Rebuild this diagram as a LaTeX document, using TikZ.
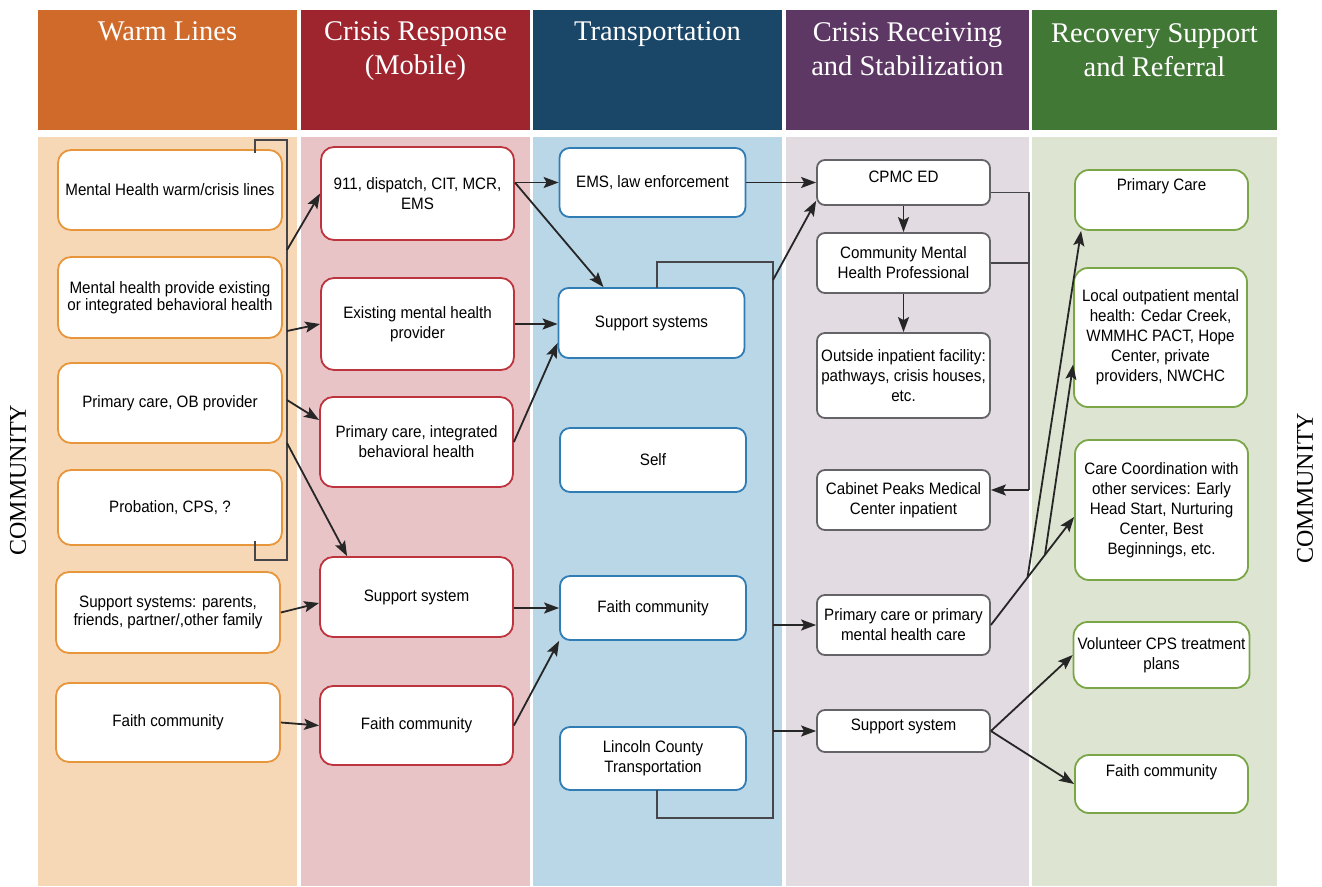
\documentclass[tikz,border=0pt]{standalone}
\usepackage{fontspec}
\usepackage{tikz}
\usetikzlibrary{arrows.meta,calc}
\newfontfamily\boxfont[FakeStretch=0.92]{Liberation Sans}
\newfontfamily\headfont{Liberation Serif}
\definecolor{hdorange}{RGB}{208,106,42}
\definecolor{hdred}{RGB}{158,36,46}
\definecolor{hdblue}{RGB}{26,70,104}
\definecolor{hdpurple}{RGB}{94,56,100}
\definecolor{hdgreen}{RGB}{66,120,54}
\definecolor{bgorange}{RGB}{246,216,182}
\definecolor{bgred}{RGB}{233,196,199}
\definecolor{bgblue}{RGB}{186,215,232}
\definecolor{bggray}{RGB}{226,219,226}
\definecolor{bggreen}{RGB}{222,228,210}
\definecolor{bdorange}{RGB}{232,150,60}
\definecolor{bdred}{RGB}{190,52,62}
\definecolor{bdblue}{RGB}{48,124,180}
\definecolor{bdgray}{RGB}{100,100,104}
\definecolor{bdgreen}{RGB}{122,166,72}
\definecolor{railgray}{RGB}{70,70,74}
\tikzstyle{card} = [fill=white, line width=1.8pt, align=center, inner sep=4pt, text=black, font={\boxfont\fontsize{16.5}{20}\selectfont}]
\tikzstyle{wl} = [card, draw=bdorange, minimum width=224pt, rounded corners=13pt]
\tikzstyle{cr} = [card, draw=bdred, minimum width=193pt, rounded corners=13pt]
\tikzstyle{tr} = [card, draw=bdblue, minimum width=186pt, rounded corners=10pt]
\tikzstyle{rc} = [card, draw=bdgray, minimum width=173pt, rounded corners=8pt]
\tikzstyle{rs} = [card, draw=bdgreen, minimum width=173pt, rounded corners=14pt]
\tikzstyle{tight} = [font={\boxfont\fontsize{16.5}{17.5}\selectfont}]
\tikzstyle{htext} = [anchor=north, inner sep=0pt, align=center, text=white, font={\headfont\fontsize{28.5}{34}\selectfont}]
\tikzstyle{side} = [inner sep=0pt, rotate=90, font={\headfont\fontsize{24}{28}\selectfont}]
\tikzstyle{flow} = [-{Stealth[length=15pt,width=11pt,inset=3pt]}, line width=1.8pt, draw=black!85]
\tikzstyle{rail} = [line width=1.2pt, draw=railgray]
\tikzset{toptext/.style 2 args={text height=#1, text depth=#2}}

\begin{document}
\begin{tikzpicture}[x=1pt,y=-1pt]
			\useasboundingbox (0,0) rectangle (1322,886);
			\fill[hdorange] (38,10) rectangle (297,130);
			\fill[hdred] (301,10) rectangle (530,130);
			\fill[hdblue] (533,10) rectangle (782,130);
			\fill[hdpurple] (786,10) rectangle (1029,130);
			\fill[hdgreen] (1032,10) rectangle (1277,130);
			\fill[bgorange] (38,137) rectangle (297,886);
			\fill[bgred] (301,137) rectangle (530,886);
			\fill[bgblue] (533,137) rectangle (782,886);
			\fill[bggray] (786,137) rectangle (1029,886);
			\fill[bggreen] (1032,137) rectangle (1277,886);
			\node[htext] (h1) at (167.5,21) {Warm Lines};
			\node[htext] (h2) at (415.5,21) {Crisis Response\\(Mobile)};
			\node[htext] (h3) at (657.5,21) {Transportation};
			\node[htext] (h4) at (907.5,22) {Crisis Receiving\\and Stabilization};
			\node[htext] (h5) at (1154.5,23) {Recovery Support\\and Referral};
			\node[side] (cl) at (18,480) {COMMUNITY};
			\node[side] (cr) at (1305,488) {COMMUNITY};
			\node[wl, minimum height=80pt] (a1) at (170,190) {Mental Health warm/crisis lines};
			\node[wl, tight, minimum height=81pt] (a2) at (170,297.5) {Mental health provide existing\\or integrated behavioral health};
			\node[wl, minimum height=80pt] (a3) at (170,403) {Primary care, OB provider};
			\node[wl, minimum height=75pt] (a4) at (170,507.5) {Probation, CPS, ?};
			\node[wl, tight, minimum height=81pt] (a5) at (168,612.5) {Support systems: parents,\\friends, partner/,other family};
			\node[wl, minimum height=79pt] (a6) at (168,722.5) {Faith community};
			\node[cr, minimum height=93pt] (b1) at (417.5,193.5) {911, dispatch, CIT, MCR,\\EMS};
			\node[cr, minimum height=92pt] (b2) at (417.5,324) {Existing mental health\\provider};
			\node[cr, minimum height=90pt] (b3) at (416.5,442) {Primary care, integrated\\behavioral health};
			\node[cr, minimum height=80pt] (b4) at (416.5,597) {Support system};
			\node[cr, minimum height=79pt] (b5) at (416.5,725.5) {Faith community};
			\node[tr, minimum height=69pt] (c1) at (652.5,182.5) {EMS, law enforcement};
			\node[tr, minimum height=70pt] (c2) at (651.5,323) {Support systems};
			\node[tr, minimum height=64pt] (c3) at (653,460) {Self};
			\node[tr, minimum height=64pt] (c4) at (653,608) {Faith community};
			\node[tr, minimum height=63pt] (c5) at (653,758.5) {Lincoln County\\Transportation};
			\node[rc, minimum height=45pt, toptext={18pt}{19pt}] (d1) at (903.5,182.5) {CPMC ED};
			\node[rc, minimum height=60pt] (d2) at (903.5,263) {Community Mental\\Health Professional};
			\node[rc, minimum height=85pt] (d3) at (903.5,375.5) {Outside inpatient facility:\\pathways, crisis houses,\\etc.};
			\node[rc, minimum height=60pt] (d4) at (903.5,500) {Cabinet Peaks Medical\\Center inpatient};
			\node[rc, minimum height=60pt] (d5) at (903.5,625) {Primary care or primary\\mental health care};
			\node[rc, minimum height=42pt, toptext={16pt}{18pt}] (d6) at (903.5,731) {Support system};
			\node[rs, minimum height=60pt, toptext={16pt}{36pt}] (e1) at (1161.5,200) {Primary Care};
			\node[rs, minimum height=139pt] (e2) at (1160.5,337.5) {Local outpatient mental\\health: Cedar Creek,\\WMMHC PACT, Hope\\Center, private\\providers, NWCHC};
			\node[rs, minimum height=140pt] (e3) at (1161.5,510) {Care Coordination with\\other services: Early\\Head Start, Nurturing\\Center, Best\\Beginnings, etc.};
			\node[rs, minimum height=66pt] (e4) at (1161.5,655) {Volunteer CPS treatment\\plans};
			\node[rs, minimum height=58pt, toptext={17pt}{33pt}] (e5) at (1161.5,784) {Faith community};
			\coordinate (lt) at (287,140);
			\coordinate (lb) at (287,560);
			\coordinate (l1) at (287,250);
			\coordinate (l2) at (287,331);
			\coordinate (l3) at (287,400);
			\coordinate (l4) at (287,443);
			\draw[rail] (255,153) -- (255,140) -- (lt) -- (lb) -- (255,560) -- (255,541);
			\draw[flow] (l1) -- (b1.west);
			\draw[flow] (l2) -- (b2.west);
			\draw[flow] (l3) -- ([yshift=22pt]b3.west);
			\draw[flow] (l4) -- ([xshift=28pt]b4.north west);
			\draw[flow] (a5.east) -- ([yshift=-6pt]b4.west);
			\draw[flow] (a6.east) -- (b5.west);
			\draw[flow] (b1.east |- c1.west) -- (c1.west);
			\draw[flow] (b1.east |- c1.west) -- ([xshift=-48pt]c2.north);
			\draw[flow] (b2.east) -- (b2.east -| c2.west);
			\draw[flow] (b3.east) -- ([yshift=-20pt]c2.west);
			\draw[flow] (b4.east |- c4.west) -- (c4.west);
			\draw[flow] (b5.east) -- (c4.south west);
			\coordinate (mt) at (773,262);
			\coordinate (mb) at (773,818);
			\coordinate (m1) at (773,280);
			\draw[rail] (657,288) -- (657,262) -- (mt) -- (mb) -- (657,818) -- (657,790);
			\draw[flow] (c1.east) -- (d1.west);
			\draw[flow] (m1) -- ([yshift=5pt]d1.south west);
			\draw[flow] (mt |- d5.west) -- (d5.west);
			\draw[flow] (mt |- d6.west) -- (d6.west);
			\draw[flow] (d1.south) -- (d2.north);
			\draw[flow] (d2.south) -- (d3.north);
			\coordinate (rt) at (1029,192.5);
			\coordinate (rb) at (1029,490);
			\draw[rail] ([yshift=-10pt]d1.east) -- (rt) -- (rb);
			\draw[rail] (d2.east) -- (d2.east -| rt);
			\draw[flow] (rb) -- ([yshift=10pt]d4.east);
			\coordinate (j1) at ($(d5.east)!0.44!([yshift=-7pt]e3.west)$);
			\coordinate (j2) at ($(d5.east)!0.65!([yshift=-7pt]e3.west)$);
			\draw[flow] (d5.east) -- ([yshift=-7pt]e3.west);
			\draw[flow] (j1) -- ([xshift=7pt]e1.south west);
			\draw[flow] (j2) -- ([yshift=-27pt]e2.west);
			\draw[flow] (d6.east) -- (e4.west);
			\draw[flow] (d6.east) -- (e5.west);
		\end{tikzpicture}
\end{document}
